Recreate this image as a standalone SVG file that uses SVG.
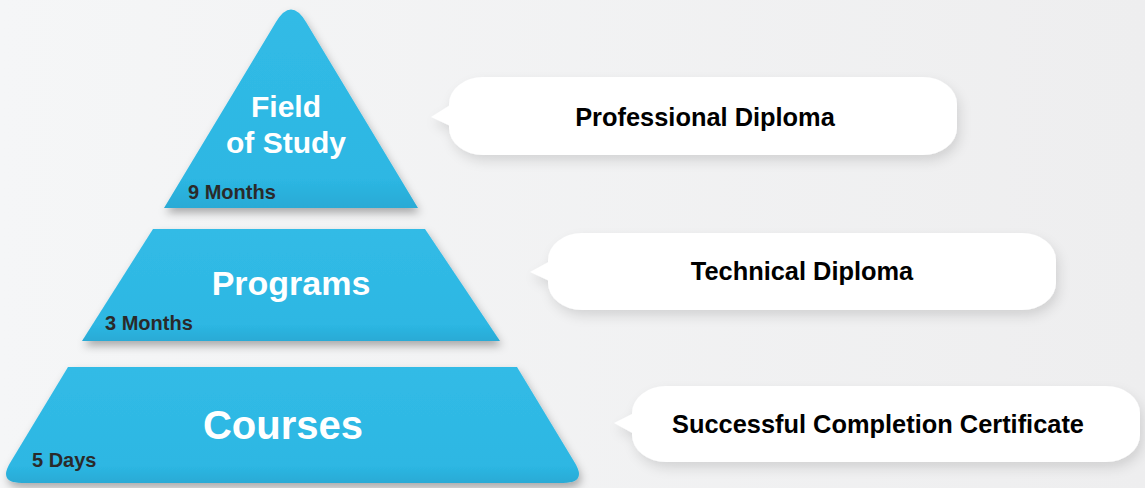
<svg xmlns="http://www.w3.org/2000/svg" width="1145" height="488" viewBox="0 0 1145 488">
<defs>
<linearGradient id="bg" x1="0" y1="0" x2="1" y2="0">
<stop offset="0" stop-color="#f5f6f7"/>
<stop offset="1" stop-color="#eeeeef"/>
</linearGradient>
<linearGradient id="tier" x1="0" y1="0" x2="0" y2="1">
<stop offset="0" stop-color="#31bbe6"/>
<stop offset="0.85" stop-color="#2db7e3"/>
<stop offset="1" stop-color="#29aad5"/>
</linearGradient>
<filter id="tshadow" x="-10%" y="-10%" width="120%" height="130%">
<feDropShadow dx="2" dy="5" stdDeviation="4" flood-color="#000" flood-opacity="0.3"/>
</filter>
<filter id="bshadow" x="-10%" y="-20%" width="120%" height="150%">
<feDropShadow dx="3" dy="6" stdDeviation="6" flood-color="#000" flood-opacity="0.12"/>
</filter>
<style>
.tier{fill:url(#tier);filter:url(#tshadow);}
.title{font-family:"Liberation Sans",Arial,sans-serif;font-weight:bold;fill:#ffffff;text-anchor:middle;}
.dur{font-family:"Liberation Sans",Arial,sans-serif;font-weight:bold;fill:#2a2a2a;font-size:20px;}
.bub{fill:#ffffff;}
.btxt{font-family:"Liberation Sans",Arial,sans-serif;font-weight:bold;fill:#000000;font-size:25.4px;text-anchor:middle;}
</style>
</defs>
<rect width="1145" height="488" fill="url(#bg)"/>

<g id="tier-field">
<path class="tier" d="M164,208 L276,22 Q291,-3 306,22 L418,208 Z"/>
<text class="title" x="286" y="117" font-size="30">Field</text>
<text class="title" x="286" y="153" font-size="30">of Study</text>
<text class="dur" x="188" y="199">9 Months</text>
</g>

<g id="tier-programs">
<path class="tier" d="M153,229 L425,229 L500,341 L82,341 Z"/>
<text class="title" x="291" y="295" font-size="34">Programs</text>
<text class="dur" x="105" y="330">3 Months</text>
</g>

<g id="tier-courses">
<path class="tier" d="M68,367 L517,367 L575,463 Q587,483 563,483 L22,483 Q-2,483 10,463 Z"/>
<text class="title" x="283" y="439" font-size="40">Courses</text>
<text class="dur" x="32" y="467">5 Days</text>
</g>

<g id="bubble-professional">
<g filter="url(#bshadow)">
<rect class="bub" x="449" y="77" width="508" height="78" rx="34" ry="27"/>
<polygon class="bub" points="455,102 431,117 455,128"/>
</g>
<text class="btxt" x="705" y="126">Professional Diploma</text>
</g>

<g id="bubble-technical">
<g filter="url(#bshadow)">
<rect class="bub" x="548" y="233" width="508" height="77" rx="34" ry="27"/>
<polygon class="bub" points="554,259 530,272 554,283"/>
</g>
<text class="btxt" x="802" y="280">Technical Diploma</text>
</g>

<g id="bubble-certificate">
<g filter="url(#bshadow)">
<rect class="bub" x="632" y="386" width="508" height="76" rx="34" ry="27"/>
<polygon class="bub" points="638,411 614,423 638,436"/>
</g>
<text class="btxt" x="878" y="433">Successful Completion Certificate</text>
</g>

<g id="connectors"></g>
</svg>
